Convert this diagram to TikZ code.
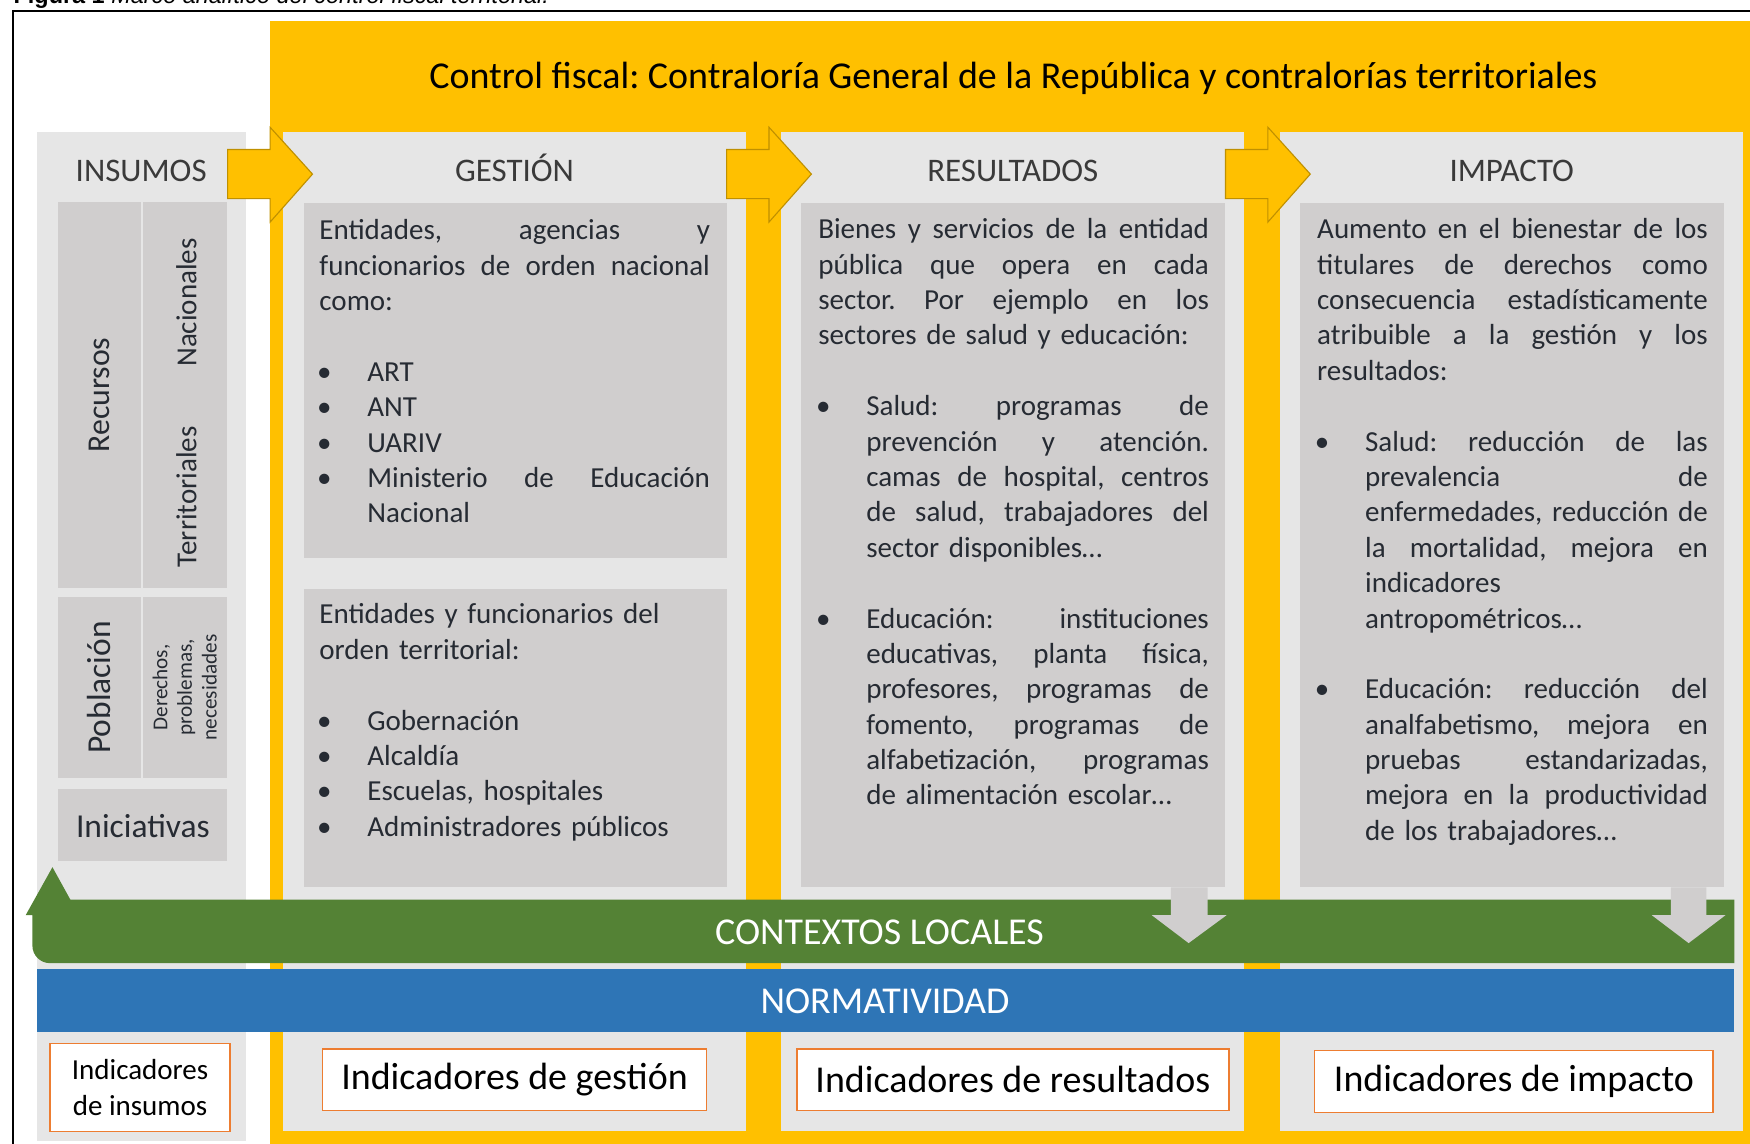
\documentclass[tikz,border=0pt]{standalone}
\usepackage{fontspec}
\setmainfont{Carlito}
\newfontfamily\arialfont{Liberation Sans}
\usetikzlibrary{positioning,calc}
\frenchspacing

\definecolor{amarillo}{HTML}{FFC000}
\definecolor{ocre}{HTML}{BF9000}
\definecolor{grisclaro}{HTML}{E6E6E6}
\definecolor{gris}{HTML}{D0CECE}
\definecolor{verde}{HTML}{548235}
\definecolor{azul}{HTML}{2E75B6}
\definecolor{naranja}{HTML}{ED7D31}
\definecolor{texto}{HTML}{262B33}
\definecolor{cabeza}{HTML}{3A3A3A}

% lineas de texto: justificadas, a la izquierda, con vineta y con sangria
\newcommand\estira{\spaceskip=.23em plus 1fill\relax\xspaceskip=\spaceskip}
\newcommand\linj[1]{\makebox[350pt][s]{\estira #1}\par}
\newcommand\linl[1]{#1\par}
\newcommand\vinj[1]{\makebox[43pt][l]{\hspace{-2pt}\textbullet}\makebox[307pt][s]{\estira #1}\par}
\newcommand\vinl[1]{\makebox[43pt][l]{\hspace{-2pt}\textbullet}#1\par}
\newcommand\sanj[1]{\hspace*{43pt}\makebox[307pt][s]{\estira #1}\par}
\newcommand\sanl[1]{\hspace*{43pt}#1\par}
\newcommand\hueco{\vskip31.7pt}

\begin{document}
\begin{tikzpicture}[x=1pt,y=-1pt,
  caja/.style={inner sep=0pt,outer sep=0pt,anchor=north west},
  columna/.style={caja,fill=grisclaro},
  bloque/.style={caja,fill=gris},
  cabeza/.style={anchor=base,text=cabeza,font=\fontsize{29.5}{35}\selectfont},
  girado/.style={rotate=90,text=texto,font=\fontsize{26}{31.7}\selectfont},
  cuerpo/.style={inner sep=0pt,anchor=base west,text width=350pt,text=texto,font=\fontsize{26}{31.7}\selectfont},
  indicador/.style={caja,draw=naranja,line width=1.3pt,fill=white,font=\fontsize{34}{41}\selectfont},
  flecha/.style={fill=amarillo,draw=ocre,line width=1pt},
  franja/.style={anchor=base,text=white,font=\fontsize{34}{41}\selectfont}
]
\useasboundingbox (0,0) rectangle (1568,1025);

% marco y leyenda
\draw[line width=1.8pt] (11.5,9.5) rectangle (1600,1060);
\node[anchor=base west,inner sep=0pt] (leyenda) at (12,3.5) {\arialfont\fontsize{21}{25}\selectfont\textbf{Figura 1} \textit{Marco analítico del control fiscal territorial.}};

% control fiscal
\node[caja,fill=amarillo,minimum width=1326,minimum height=1006] (control) at (242,19) {};
\node[anchor=base,font=\fontsize{34}{41}\selectfont] (titulo) at (908,79) {Control fiscal: Contraloría General de la República y contralorías territoriales};

% columnas
\node[columna,minimum width=187,minimum height=904] (insumos) at (33,118) {};
\node[columna,minimum width=414,minimum height=895] (gestion) at (254,118) {};
\node[columna,minimum width=415,minimum height=895] (resultados) at (700,118) {};
\node[columna,minimum width=415,minimum height=895] (impacto) at (1147,118) {};

\node[cabeza] (hInsumos) at ([yshift=-45pt]insumos.north) {INSUMOS};
\node[cabeza] (hGestion) at ([yshift=-45pt]gestion.north) {GESTIÓN};
\node[cabeza] (hResultados) at ([yshift=-45pt]resultados.north) {RESULTADOS};
\node[cabeza] (hImpacto) at ([yshift=-45pt]impacto.north) {IMPACTO};

% bloques grises
\node[bloque,minimum width=74,minimum height=346] (recursos) at (52,181) {};
\node[bloque,minimum width=75,minimum height=346] (origen) at (128,181) {};
\node[bloque,minimum width=74,minimum height=162] (poblacion) at (52,535) {};
\node[bloque,minimum width=75,minimum height=162] (derechos) at (128,535) {};
\node[bloque,minimum width=151,minimum height=64] (iniciativas) at (52,707) {};
\node[bloque,minimum width=379,minimum height=318] (gsup) at (272,182) {};
\node[bloque,minimum width=379,minimum height=267] (ginf) at (272,528) {};
\node[bloque,minimum width=380,minimum height=613] (rbox) at (718,182) {};
\node[bloque,minimum width=380,minimum height=613] (ibox) at (1165,182) {};

% flechas amarillas
\filldraw[flecha] (204,134) -- (242,134) -- (242,114) -- (280,156) -- (242,199) -- (242,178) -- (204,178) -- cycle;
\filldraw[flecha] (651,134) -- (689,134) -- (689,114) -- (727,156) -- (689,199) -- (689,178) -- (651,178) -- cycle;
\filldraw[flecha] (1098,134) -- (1136,134) -- (1136,114) -- (1174,156) -- (1136,199) -- (1136,178) -- (1098,178) -- cycle;

% insumos
\node[girado,font=\fontsize{28.5}{34}\selectfont] (tRecursos) at (recursos.center) {Recursos};
\node[girado] (tNacionales) at (167,271) {Nacionales};
\node[girado] (tTerritoriales) at (167,445) {Territoriales};
\node[girado,font=\fontsize{30}{36}\selectfont] (tPoblacion) at (poblacion.center) {Población};
\node[girado,align=center,font=\fontsize{19}{22}\selectfont] (tDerechos) at (derechos.center) {Derechos,\\problemas,\\necesidades};
\node[anchor=base,text=texto,font=\fontsize{30}{36}\selectfont] (tIniciativas) at (128,750) {Iniciativas};

% gestion
\node[cuerpo] (tGsup) at ([shift={(14,33)}]gsup.north west) {%
\linj{Entidades, agencias y}
\linj{funcionarios de orden nacional}
\linl{como:}
\hueco
\vinl{ART}
\vinl{ANT}
\vinl{UARIV}
\vinj{Ministerio de Educación}
\sanl{Nacional}};
\node[cuerpo] (tGinf) at ([shift={(14,31)}]ginf.north west) {%
\linl{Entidades y funcionarios del}
\linl{orden territorial:}
\hueco
\vinl{Gobernación}
\vinl{Alcaldía}
\vinl{Escuelas, hospitales}
\vinl{Administradores públicos}};

% resultados
\node[cuerpo] (tRbox) at ([shift={(15,32)}]rbox.north west) {%
\linj{Bienes y servicios de la entidad}
\linj{pública que opera en cada}
\linj{sector. Por ejemplo en los}
\linl{sectores de salud y educación:}
\hueco
\vinj{Salud: programas de}
\sanj{prevención y atención.}
\sanj{camas de hospital, centros}
\sanj{de salud, trabajadores del}
\sanl{sector disponibles…}
\hueco
\vinj{Educación: instituciones}
\sanj{educativas, planta física,}
\sanj{profesores, programas de}
\sanj{fomento, programas de}
\sanj{alfabetización, programas}
\sanl{de alimentación escolar…}};

% impacto
\node[cuerpo] (tIbox) at ([shift={(15,32)}]ibox.north west) {%
\linj{Aumento en el bienestar de los}
\linj{titulares de derechos como}
\linj{consecuencia estadísticamente}
\linj{atribuible a la gestión y los}
\linl{resultados:}
\hueco
\vinj{Salud: reducción de las}
\sanj{prevalencia de}
\sanj{enfermedades, reducción de}
\sanj{la mortalidad, mejora en}
\sanl{indicadores}
\sanl{antropométricos…}
\hueco
\vinj{Educación: reducción del}
\sanj{analfabetismo, mejora en}
\sanj{pruebas estandarizadas,}
\sanj{mejora en la productividad}
\sanl{de los trabajadores…}};

% contextos locales y normatividad
\fill[verde] (1554,806) -- (63,806) -- (47,777) -- (23,820) -- (29,820) -- (29,847) .. controls (29,856) and (36,863) .. (45,863) -- (1554,863) -- cycle;
\fill[gris] (1049,795) -- (1082,795) -- (1082,820) -- (1099,820) -- (1065,845) -- (1032,820) -- (1049,820) -- cycle;
\fill[gris] (1497,795) -- (1529,795) -- (1529,820) -- (1546,820) -- (1513,845) -- (1480,820) -- (1497,820) -- cycle;
\node[franja] (contextos) at (788,846) {CONTEXTOS LOCALES};
\node[caja,fill=azul,minimum width=1521,minimum height=57] (normas) at (33,868) {};
\node[franja] (normatividad) at (793,908) {NORMATIVIDAD};

% indicadores
\node[indicador,minimum width=161,minimum height=79,align=center,font=\fontsize{26}{32}\selectfont] (iInsumos) at (45,935) {Indicadores\\de insumos};
\node[indicador,minimum width=344,minimum height=55] (iGestion) at (289,940) {Indicadores de gestión};
\node[indicador,minimum width=387,minimum height=55] (iResultados) at (714,940) {Indicadores de resultados};
\node[indicador,minimum width=357,minimum height=56] (iImpacto) at (1178,941) {Indicadores de impacto};
\end{tikzpicture}
\end{document}
